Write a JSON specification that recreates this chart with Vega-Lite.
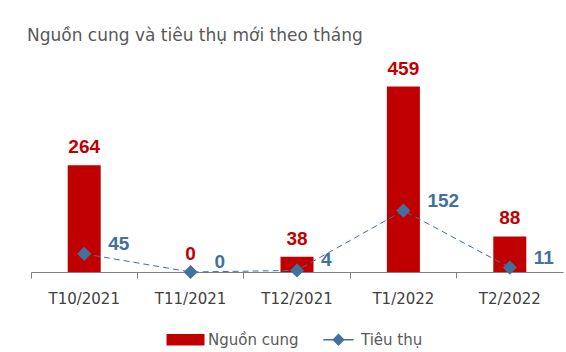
{
  "$schema": "https://vega.github.io/schema/vega-lite/v6.json",
  "width": 532,
  "height": 202,
  "autosize": {"type": "none"},
  "padding": {"left": 31, "top": 70, "right": 3, "bottom": 80},
  "background": "white",
  "title": {
    "text": "Nguồn cung và tiêu thụ mới theo tháng",
    "anchor": "start",
    "frame": "group",
    "offset": 15,
    "dx": -4,
    "font": "DejaVu Sans",
    "fontSize": 17,
    "fontWeight": "normal",
    "color": "#595959"
  },
  "config": {"view": {"stroke": null}},
  "data": {
    "values": [
      {"month": "T10/2021", "series": "Nguồn cung", "value": 264},
      {"month": "T11/2021", "series": "Nguồn cung", "value": 0},
      {"month": "T12/2021", "series": "Nguồn cung", "value": 38},
      {"month": "T1/2022", "series": "Nguồn cung", "value": 459},
      {"month": "T2/2022", "series": "Nguồn cung", "value": 88},
      {"month": "T10/2021", "series": "Tiêu thụ", "value": 45},
      {"month": "T11/2021", "series": "Tiêu thụ", "value": 0},
      {"month": "T12/2021", "series": "Tiêu thụ", "value": 4},
      {"month": "T1/2022", "series": "Tiêu thụ", "value": 152},
      {"month": "T2/2022", "series": "Tiêu thụ", "value": 11}
    ]
  },
  "encoding": {
    "x": {
      "field": "month",
      "type": "nominal",
      "sort": null,
      "scale": {"paddingInner": 0, "paddingOuter": 0},
      "axis": {
        "title": null,
        "labelAngle": 0,
        "bandPosition": 0,
        "labelFont": "DejaVu Sans",
        "labelFontSize": 15,
        "labelColor": "#404040",
        "labelPadding": 13,
        "tickSize": 6,
        "domainColor": "#808080",
        "tickColor": "#808080",
        "grid": false
      }
    },
    "y": {
      "field": "value",
      "type": "quantitative",
      "scale": {"domain": [0, 500], "nice": false},
      "axis": null
    }
  },
  "layer": [
    {
      "transform": [{"filter": "datum.series === 'Nguồn cung'"}],
      "mark": {"type": "bar", "width": {"band": 0.31}},
      "encoding": {
        "color": {
          "field": "series",
          "type": "nominal",
          "scale": {"domain": ["Nguồn cung", "Tiêu thụ"], "range": ["#C00000", "#41719C"]},
          "legend": {
            "title": null,
            "orient": "none",
            "legendX": 147,
            "legendY": 262,
            "direction": "horizontal",
            "symbolSize": 1444,
            "labelFont": "DejaVu Sans",
            "labelFontSize": 15,
            "labelColor": "#595959",
            "labelOffset": 15,
            "columnPadding": 21,
            "encode": {
              "symbols": {
                "update": {
                  "shape": {"signal": "datum.value === 'Tiêu thụ' ? 'M-0.8,0H-0.3M0.3,0H0.8M0,-0.27L0.27,0L0,0.27L-0.27,0Z' : 'M-1,-0.3H1V0.3H-1Z'"},
                  "fill": {"signal": "datum.value === 'Tiêu thụ' ? '#41719C' : '#C00000'"},
                  "stroke": {"signal": "datum.value === 'Tiêu thụ' ? '#41719C' : '#C00000'"},
                  "strokeWidth": {"signal": "datum.value === 'Tiêu thụ' ? 1.5 : 0"},
                  "fillOpacity": {"value": 1},
                  "opacity": {"value": 1}
                }
              }
            }
          }
        }
      }
    },
    {
      "transform": [{"filter": "datum.series === 'Nguồn cung'"}],
      "mark": {
        "type": "text",
        "baseline": "bottom",
        "dy": -8,
        "font": "Liberation Sans",
        "fontWeight": "bold",
        "fontSize": 19,
        "color": "#C00000"
      },
      "encoding": {"text": {"field": "value", "type": "quantitative"}}
    },
    {
      "transform": [{"filter": "datum.series === 'Tiêu thụ'"}],
      "mark": {"type": "line", "strokeDash": [6, 4], "strokeWidth": 1, "color": "#41719C"},
      "encoding": {}
    },
    {
      "transform": [{"filter": "datum.series === 'Tiêu thụ'"}],
      "mark": {"type": "point", "shape": "diamond", "filled": true, "size": 200, "opacity": 1, "color": "#41719C"},
      "encoding": {}
    },
    {
      "transform": [{"filter": "datum.series === 'Tiêu thụ'"}],
      "mark": {
        "type": "text",
        "align": "left",
        "baseline": "middle",
        "dx": 24,
        "dy": -10,
        "font": "Liberation Sans",
        "fontWeight": "bold",
        "fontSize": 19,
        "color": "#41719C"
      },
      "encoding": {"text": {"field": "value", "type": "quantitative"}}
    }
  ]
}
